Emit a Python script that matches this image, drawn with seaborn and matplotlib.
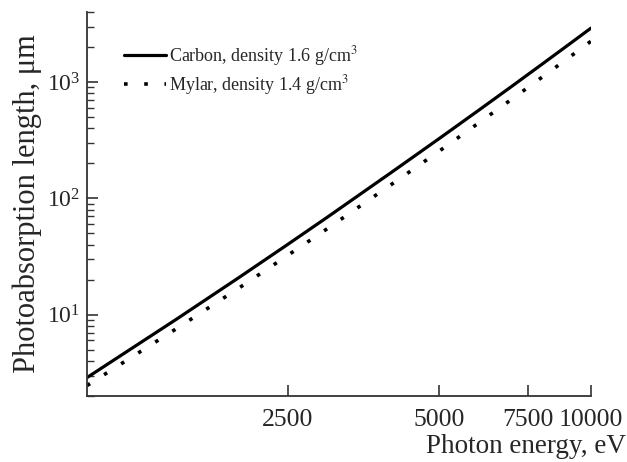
import matplotlib
matplotlib.use("Agg")
import matplotlib.pyplot as plt
import matplotlib.ticker as mticker
import seaborn as sns
import pandas as pd

# photon energy grid, eV
energy = [1000, 1500, 2000, 2500, 3000, 4000, 5000, 6000, 7000, 8000, 9000, 10000]
# photoabsorption length, um
carbon = [2.88, 9.06, 20.8, 40.1, 69.0, 165, 327, 576, 934, 1426, 2075, 2910]
mylar = [2.46, 7.52, 16.9, 32.3, 55.0, 130, 255, 448, 724, 1102, 1600, 2244]

x_ticks = [2500, 5000, 7500, 10000]
labels = ["Carbon, density 1.6 g/cm$^3$", "Mylar, density 1.4 g/cm$^3$"]

df = pd.DataFrame({"energy": energy, "carbon": carbon, "mylar": mylar})

sns.set_theme(style="ticks")
plt.rcParams["font.family"] = ["Liberation Serif", "DejaVu Serif"]
plt.rcParams["mathtext.fontset"] = "stix"

fig = plt.figure(figsize=(6.27, 4.62), dpi=100)
ax = fig.add_axes([87 / 627, 1 - 396 / 462, 504 / 627, 384 / 462])

sns.lineplot(data=df, x="energy", y="carbon", ax=ax, color="black",
             linewidth=2.3, label=labels[0])
sns.lineplot(data=df, x="energy", y="mylar", ax=ax, color="black",
             linewidth=2.6, linestyle=(0, (1.0, 4.6)), label=labels[1])

ax.set_xscale("log")
ax.set_yscale("log")
ax.set_xlim(1000, 10000)
ax.set_ylim(2, 4000)

ax.xaxis.set_major_locator(mticker.FixedLocator(x_ticks))
ax.xaxis.set_major_formatter(mticker.FixedFormatter([str(t) for t in x_ticks]))
ax.xaxis.set_minor_locator(mticker.NullLocator())
ax.yaxis.set_major_locator(mticker.LogLocator(base=10, numticks=10))
ax.yaxis.set_minor_locator(mticker.LogLocator(base=10, subs=range(2, 10), numticks=20))

ax.tick_params(axis="both", which="major", direction="in", length=8, width=1.2,
               color="#333333")
ax.tick_params(axis="y", which="minor", direction="in", length=5, width=1.0,
               color="#333333")
ax.tick_params(axis="x", labelsize=18.5, pad=9)
ax.tick_params(axis="y", labelsize=17, pad=5)

for s in ["top", "right"]:
    ax.spines[s].set_visible(False)
for s in ["left", "bottom"]:
    ax.spines[s].set_color("#333333")
    ax.spines[s].set_linewidth(1.3)

ax.set_xlabel("Photon energy, eV", fontsize=19.5, ha="right")
ax.xaxis.set_label_coords(1.069, -0.10)
ax.set_ylabel("Photoabsorption length, μm", fontsize=22)
ax.yaxis.set_label_coords(-0.09, 0.5)

leg = ax.legend(loc="upper left", bbox_to_anchor=(0.06, 0.935), frameon=False,
                fontsize=13, handlelength=2.3, handletextpad=0.15,
                labelspacing=0.25, borderaxespad=0)

fig.savefig("out.png", dpi=100)
